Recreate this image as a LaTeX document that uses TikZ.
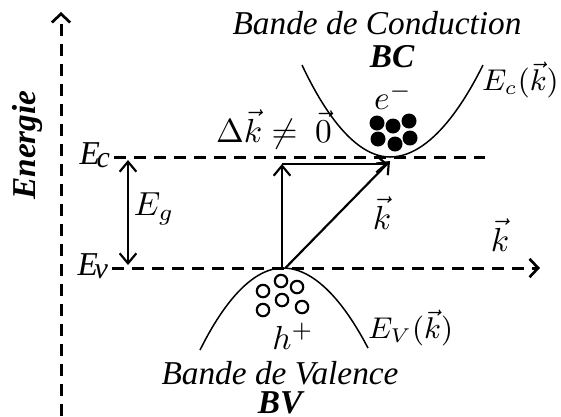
\documentclass[tikz,border=0pt]{standalone}
\usepackage{fontspec}
\setmainfont{Liberation Serif}
\usetikzlibrary{arrows.meta}

\begin{document}
\begin{tikzpicture}[x=0.3pt, y=0.3pt,
    >={Straight Barb[length=3pt,width=5pt]},
    axis/.style={line width=0.9pt, dash pattern=on 3.6pt off 2.4pt},
    axistip/.style={-{Straight Barb[length=2.6pt,width=5.5pt,line width=0.8pt]}},
    vec/.style={line width=0.65pt, ->},
    band/.style={line width=0.45pt},
    lbl/.style={inner sep=1pt}]
    \useasboundingbox (0,0) rectangle (561,416);

    % Energy axis
    \coordinate (eorig) at (61,0);
    \coordinate (etop) at (61,404);
    \draw[axis, axistip] (eorig) -- (etop);
    \node[rotate=90, font=\bfseries\itshape] (energie) at (27,271) {Energie};

    % Band edges
    \node[lbl, anchor=east] (ec) at (114,261) {\itshape E\kern-1pt\raisebox{-1pt}{\small c}};
    \coordinate (ecend) at (485,259);
    \draw[axis] (ec.east |- ecend) -- (ecend);
    \node[lbl, anchor=east] (ev) at (112,150) {\itshape E\kern-1pt\raisebox{-1pt}{\small v}};
    \coordinate (kend) at (540,148);
    \draw[axis, axistip] (ev.east |- kend) -- (kend);
    \node (kaxis) at (500,181) {$\vec{k}$};

    % Gap
    \coordinate (gtop) at (128,256);
    \coordinate (gbot) at (128,151);
    \draw[vec, <->] (gtop) -- (gbot);
    \node (eg) at (154,207) {$E_g$};

    % Conduction band
    \draw[band] (302,351) parabola bend (390,259) (483,351);
    \node[anchor=east, inner sep=0.5pt, font=\small] (eck) at (561,336) {$E_c(\vec{k})$};
    \node (bc) at (392,359) {\bfseries\itshape BC};
    \node (bcname) at (377,393) {\itshape Bande de Conduction};
    \node (elec) at (393,320) {$e^-$};
    \foreach \x/\y in {377/293, 393/290, 409/295, 378/277, 395/272, 410/278}
        \fill (\x,\y) circle (7.5);

    % Valence band
    \draw[band] (200,66) parabola bend (283,148) (368,68);
    \node[lbl, anchor=west, font=\small] (evk) at (364,88) {$E_V(\vec{k})$};
    \node (hole) at (293,80) {$h^+$};
    \node (bvname) at (280,43) {\itshape Bande de Valence};
    \node (bv) at (280,13) {\bfseries\itshape BV};
    \foreach \x/\y in {263/125, 281/135, 297/129, 263/106, 282/116, 302/109}
        \draw[line width=0.65pt] (\x,\y) circle (6.2);

    % Transitions
    \coordinate (kstart) at (282,148);
    \coordinate (kvert) at (282,252);
    \coordinate (khor) at (388,252);
    \coordinate (kdiag) at (390,255);
    \draw[vec] (kstart) -- (kvert);
    \draw[vec] (kvert) -- (khor);
    \draw[vec] ([xshift=1pt]kstart) -- (kdiag);
    \node (dk) at (274,287) {$\Delta\vec{k}\neq\ \vec{0}$};
    \node (kvec) at (382,203) {$\vec{k}$};
\end{tikzpicture}
\end{document}
